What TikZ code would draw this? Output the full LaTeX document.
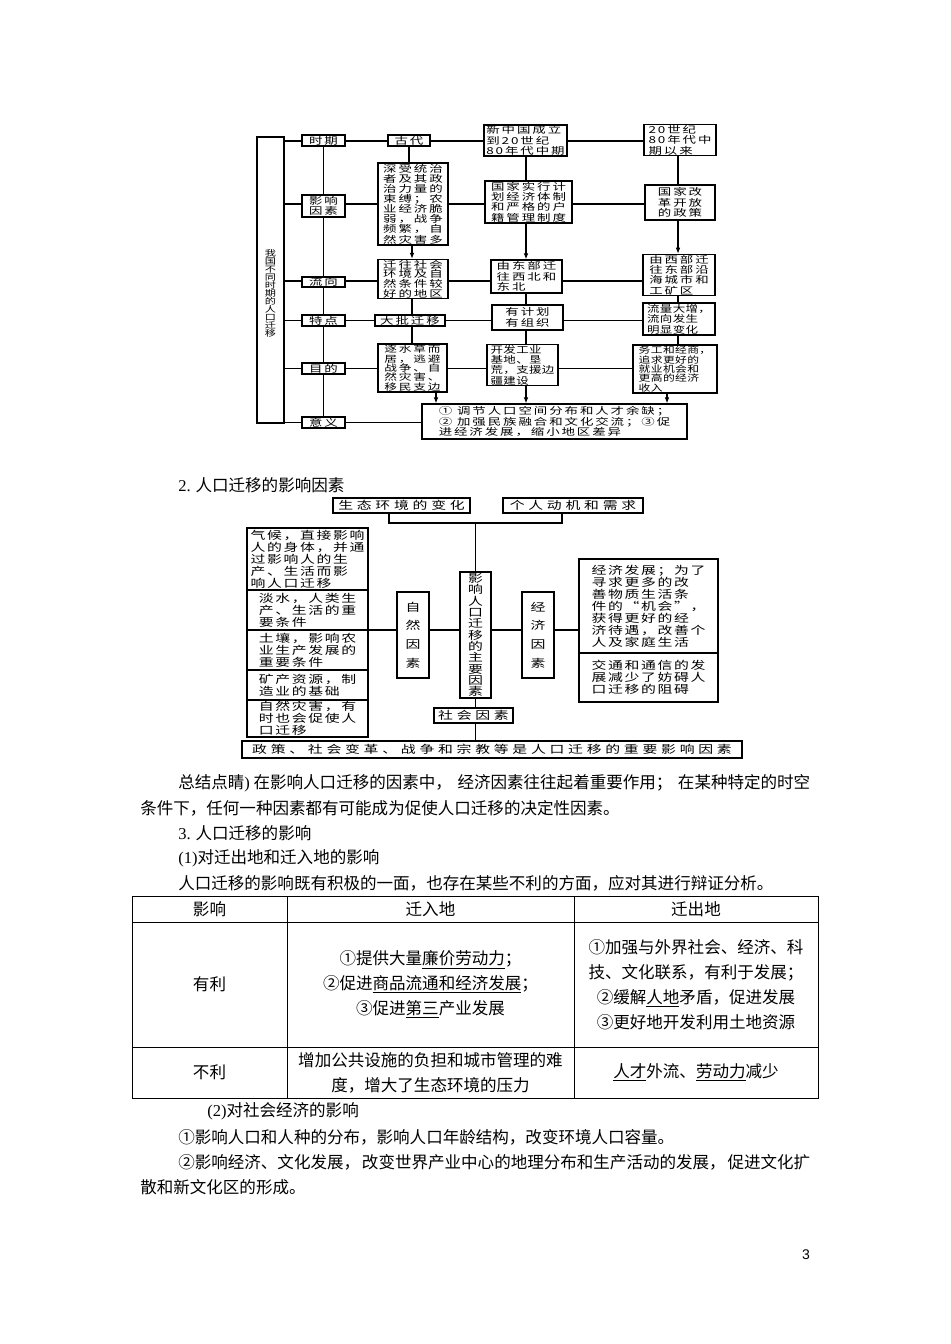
\documentclass[tikz,border=0pt]{standalone}
\usepackage{fontspec}
\setmainfont{Liberation Serif}
\newfontfamily\cjk{Noto Sans CJK SC}
\newfontfamily\dfa[FakeStretch=1.4,LetterSpace=20]{Noto Sans CJK SC}
\newfontfamily\dft[FakeStretch=1.3,LetterSpace=4]{Noto Sans CJK SC}
\newfontfamily\dfb[FakeStretch=1.35,LetterSpace=15]{Noto Sans CJK SC}
\newfontfamily\dfw[FakeStretch=1.35,LetterSpace=34]{Noto Sans CJK SC}
\newfontfamily\dfv[FakeStretch=1.35]{Noto Sans CJK SC}
\newfontfamily\latf{Liberation Serif}
\newfontfamily\pnfont{Liberation Sans}
\usetikzlibrary{arrows.meta}
\newcommand\lat[1]{{\latf #1}}
\newcommand\bx[7][]{\node[#1,minimum width={(#5-#3)*0.75pt},minimum height={(#6-#4)*0.75pt}] (#2) at ({(#3+#5)/2},{(#4+#6)/2}) {#7};}
\begin{document}
\begin{tikzpicture}[x=0.75pt,y=-0.75pt,
  ba/.style={draw, line width=0.9pt, inner xsep=1pt, inner ysep=0.5pt, align=left, font=\dfa\fontsize{7.2pt}{7.8pt}\selectfont},
  cat/.style={ba, align=center},
  bt/.style={ba, font=\dft\fontsize{7.2pt}{7.8pt}\selectfont},
  bb/.style={draw, line width=0.8pt, inner xsep=1pt, inner ysep=0.5pt, align=left, font=\dfb\fontsize{8.25pt}{9pt}\selectfont},
  bw/.style={bb, align=center, font=\dfw\fontsize{8.25pt}{9pt}\selectfont},
  bv/.style={bb, align=center, font=\dfv\fontsize{8.25pt}{8.5pt}\selectfont},
  bz/.style={bb, align=center, font=\dfv\fontsize{8.25pt}{13.9pt}\selectfont},
  ln/.style={line width=0.8pt},
  ar/.style={line width=0.8pt, -{Latex[length=4.5pt,width=3.5pt]}},
  txt/.style={anchor=west, inner sep=0, font=\cjk\fontsize{12.4pt}{18.75pt}\selectfont},
  tc/.style={draw, line width=0.7pt, inner sep=0, align=center, font=\cjk\fontsize{12.4pt}{18.75pt}\selectfont}
]
\fill[white] (0,0) rectangle (950,1344);
\useasboundingbox (0,0) rectangle (950,1344);

% ---------- diagram 1 ----------
\bx[ba]{big}{257}{137}{284}{423}{}
\node[font=\dfv\fontsize{6.2pt}{6pt}\selectfont, align=center, inner sep=0] (bigt) at (270.5,293) {我\\国\\不\\同\\时\\期\\的\\人\\口\\迁\\移};

\bx[cat]{shiqi}{302}{135}{345}{146}{时期}
\bx[cat]{yx}{302}{195}{345}{217}{影响\\因素}
\bx[cat]{lx}{302}{277}{345}{287}{流向}
\bx[cat]{td}{302}{315}{345}{326}{特点}
\bx[cat]{md}{302}{363}{345}{374}{目的}
\bx[cat]{yy}{302}{417}{345}{428}{意义}

\bx[cat]{gudai}{388}{135}{430}{146}{古代}
\bx[ba,font=\dfa\fontsize{7.2pt}{7.6pt}\selectfont]{sheng}{378}{163}{448}{245}{深受统治\\者及其政\\治力量的\\束缚；农\\业经济脆\\弱，战争\\频繁，自\\然灾害多}
\bx[ba,font=\dfa\fontsize{7.2pt}{7.2pt}\selectfont]{qw}{378}{260}{448}{298}{迁往社会\\环境及自\\然条件较\\好的地区}
\bx[cat]{dp}{375}{315}{445}{326}{大批迁移}
\bx[ba,font=\dfa\fontsize{6.8pt}{7.0pt}\selectfont]{zsc}{378}{344}{447}{392}{逐水草而\\居，逃避\\战争、自\\然灾害、\\移民支边}

\bx[ba]{xzg}{484}{125}{567}{156}{新中国成立\\到20世纪\\80年代中期}
\bx[ba]{gjsx}{485}{181}{572}{223}{国家实行计\\划经济体制\\和严格的户\\籍管理制度}
\bx[ba]{ydb}{491}{260}{562}{293}{由东部迁\\往西北和\\东北}
\bx[cat]{yjh}{492}{305}{563}{330}{有计划\\有组织}
\bx[bt]{kf}{487}{345}{558}{385}{开发工业\\基地、垦\\荒，支援边\\疆建设}

\bx[ba]{s20}{644}{125}{716}{155}{20世纪\\80年代中\\期以来}
\bx[cat]{gjgg}{645}{185}{715}{220}{国家改\\革开放\\的政策}
\bx[ba]{yxb}{643}{255}{715}{295}{由西部迁\\往东部沿\\海城市和\\工矿区}
\bx[bt]{ll}{643}{303}{715}{335}{流量大增，\\流向发生\\明显变化}
\bx[bt,font=\dft\fontsize{6.8pt}{7.0pt}\selectfont]{wg}{633}{345}{717}{393}{务工和经商，\\追求更好的\\就业机会和\\更高的经济\\收入}

\bx[ba]{yyb}{422}{404}{687}{439}{① 调节人口空间分布和人才余缺；\\② 加强民族融合和文化交流；③促\\进经济发展，缩小地区差异}

\coordinate (r1) at (0,141);
\coordinate (r2) at (0,204);
\coordinate (r3) at (0,281);
\coordinate (r4) at (0,320.5);
\coordinate (r5) at (0,368.5);
\coordinate (r6) at (0,422.5);
\coordinate (c1) at (412,0);
\coordinate (c1b) at (436,0);
\coordinate (c2) at (526,0);
\coordinate (c3) at (678,0);
\coordinate (c3b) at (667,0);

\draw[ln] (big.east |- r1) -- (shiqi.west |- r1) (shiqi.east |- r1) -- (gudai.west |- r1) (gudai.east |- r1) -- (xzg.west |- r1) (xzg.east |- r1) -- (s20.west |- r1);
\draw[ln] (big.east |- r2) -- (yx.west |- r2) (yx.east |- r2) -- (sheng.west |- r2) (sheng.east |- r2) -- (gjsx.west |- r2) (gjsx.east |- r2) -- (gjgg.west |- r2);
\draw[ln] (big.east |- r3) -- (lx.west |- r3) (lx.east |- r3) -- (qw.west |- r3) (qw.east |- r3) -- (ydb.west |- r3) (ydb.east |- r3) -- (yxb.west |- r3);
\draw[ln] (big.east |- r4) -- (td.west |- r4) (td.east |- r4) -- (dp.west |- r4) (dp.east |- r4) -- (yjh.west |- r4) (yjh.east |- r4) -- (ll.west |- r4);
\draw[ln] (big.east |- r5) -- (md.west |- r5) (md.east |- r5) -- (zsc.west |- r5) (zsc.east |- r5) -- (kf.west |- r5) (kf.east |- r5) -- (wg.west |- r5);
\draw[ln] (big.east |- r6) -- (yy.west |- r6) (yy.east |- r6) -- (yyb.west |- r6);
\draw[ln] (shiqi) -- (yx) -- (lx) -- (td) -- (md) -- (yy);

\draw[ln] (gudai.south) -- (gudai.south |- sheng.north);
\draw[ar] (sheng.south -| c1) -- (qw.north -| c1);
\draw[ln] (qw.south -| c1) -- (dp.north -| c1);
\draw[ln] (dp.south -| c1) -- (zsc.north -| c1);
\draw[ar] (zsc.south -| c1b) -- (yyb.north -| c1b);

\draw[ln] (xzg.south -| c2) -- (gjsx.north -| c2);
\draw[ar] (gjsx.south -| c2) -- (ydb.north -| c2);
\draw[ln] (ydb.south -| c2) -- (yjh.north -| c2);
\draw[ln] (yjh.south -| c2) -- (kf.north -| c2);
\draw[ar] (kf.south -| c2) -- (yyb.north -| c2);

\draw[ln] (s20.south -| c3) -- (gjgg.north -| c3);
\draw[ar] (gjgg.south -| c3) -- (yxb.north -| c3);
\draw[ln] (yxb.south -| c3) -- (ll.north -| c3);
\draw[ln] (ll.south -| c3) -- (wg.north -| c3);
\draw[ar] (wg.south -| c3b) -- (yyb.north -| c3b);

% ---------- text ----------
\node[txt] (h2) at (178,485) {\lat{2.} 人口迁移的影响因素};

% ---------- diagram 2 ----------
\bx[bw]{stbh}{333}{498}{470}{513}{生态环境的变化}
\bx[bw]{grdj}{503}{498}{643}{513}{个人动机和需求}
\bx[bv]{main}{460}{572}{491}{698}{影\\响\\人\\口\\迁\\移\\的\\主\\要\\因\\素}
\bx[bz]{zr}{397}{592}{429}{678}{自\\然\\因\\素}
\bx[bz]{jj}{522}{592}{554}{678}{经\\济\\因\\素}
\bx[bw]{shyz}{434}{708}{513}{723}{社会因素}
\bx[bw]{zc}{242}{741}{742}{758}{政策、社会变革、战争和宗教等是人口迁移的重要影响因素}
\bx[bb]{L1}{247}{528}{368}{590}{气候，直接影响\\人的身体，并通\\过影响人的生\\产、生活而影\\响人口迁移}
\bx[bb]{L2}{247}{590}{368}{630}{淡水，人类生\\产、生活的重\\要条件}
\bx[bb]{L3}{247}{630}{368}{670}{土壤，影响农\\业生产发展的\\重要条件}
\bx[bb]{L4}{247}{670}{368}{700}{矿产资源，制\\造业的基础}
\bx[bb]{L5}{247}{700}{368}{737}{自然灾害，有\\时也会促使人\\口迁移}
\bx[bb]{R1}{579}{559}{718}{653}{经济发展；为了\\寻求更多的改\\善物质生活条\\件的“机会”，\\获得更好的经\\济待遇，改善个\\人及家庭生活}
\bx[bb]{R2}{579}{653}{718}{702}{交通和通信的发\\展减少了妨碍人\\口迁移的阻碍}

\coordinate (ja) at (389,523);
\coordinate (jb) at (562,523);
\coordinate (ry) at (0,630);
\draw[ln] (stbh.south -| ja) -- (ja) -- (jb) -- (grdj.south -| jb);
\draw[ln] (main.north) -- (main.north |- ja);
\draw[ln] (main.south) -- (main.south |- shyz.north);
\draw[ln] (shyz.south -| main.south) -- (zc.north -| main.south);
\draw[ln] (L2.east |- ry) -- (zr.west |- ry) (zr.east |- ry) -- (main.west |- ry) (main.east |- ry) -- (jj.west |- ry) (jj.east |- ry) -- (R1.west |- ry);

% ---------- body text ----------
\node[txt] (p1) at (178,783) {\makebox[474pt][s]{总结点睛\lat{)} 在影响人口迁移的因素中，\hfill 经济因素往往起着重要作用；\hfill 在某种特定的时空}};
\node[txt] (p2) at (140,808) {条件下，任何一种因素都有可能成为促使人口迁移的决定性因素。};
\node[txt] (p3) at (178,833) {\lat{3.} 人口迁移的影响};
\node[txt] (p4) at (178,858) {\lat{(1)}对迁出地和迁入地的影响};
\node[txt] (p5) at (178,883) {人口迁移的影响既有积极的一面，也存在某些不利的方面，应对其进行辩证分析。};

\bx[tc]{th1}{132}{896}{287}{922}{影响}
\bx[tc]{th2}{287}{896}{574}{922}{迁入地}
\bx[tc]{th3}{574}{896}{818}{922}{迁出地}
\bx[tc]{t11}{132}{922}{287}{1047}{有利}
\bx[tc]{t12}{287}{922}{574}{1047}{①提供大量\underline{廉价劳动力}；\\②促进\underline{商品流通和经济发展}；\\③促进\underline{第三}产业发展}
\bx[tc]{t13}{574}{922}{818}{1047}{①加强与外界社会、经济、科\\技、文化联系，有利于发展；\\②缓解\underline{人地}矛盾，促进发展\\③更好地开发利用土地资源}
\bx[tc]{t21}{132}{1047}{287}{1098}{不利}
\bx[tc]{t22}{287}{1047}{574}{1098}{增加公共设施的负担和城市管理的难\\度，增大了生态环境的压力}
\bx[tc]{t23}{574}{1047}{818}{1098}{\underline{人才}外流、\underline{劳动力}减少}

\node[txt] (q1) at (207,1111) {\lat{(2)}对社会经济的影响};
\node[txt] (q2) at (178,1137) {①影响人口和人种的分布，影响人口年龄结构，改变环境人口容量。};
\node[txt] (q3) at (178,1162) {\makebox[474pt][s]{②影响经济、文化发展，\hfill 改变世界产业中心的地理分布和生产活动的发展，\hfill 促进文化扩}};
\node[txt] (q4) at (140,1187) {散和新文化区的形成。};

\node[font=\pnfont\fontsize{10.5pt}{12pt}\selectfont, inner sep=0] (pn) at (806,1255) {3};
\end{tikzpicture}
\end{document}
